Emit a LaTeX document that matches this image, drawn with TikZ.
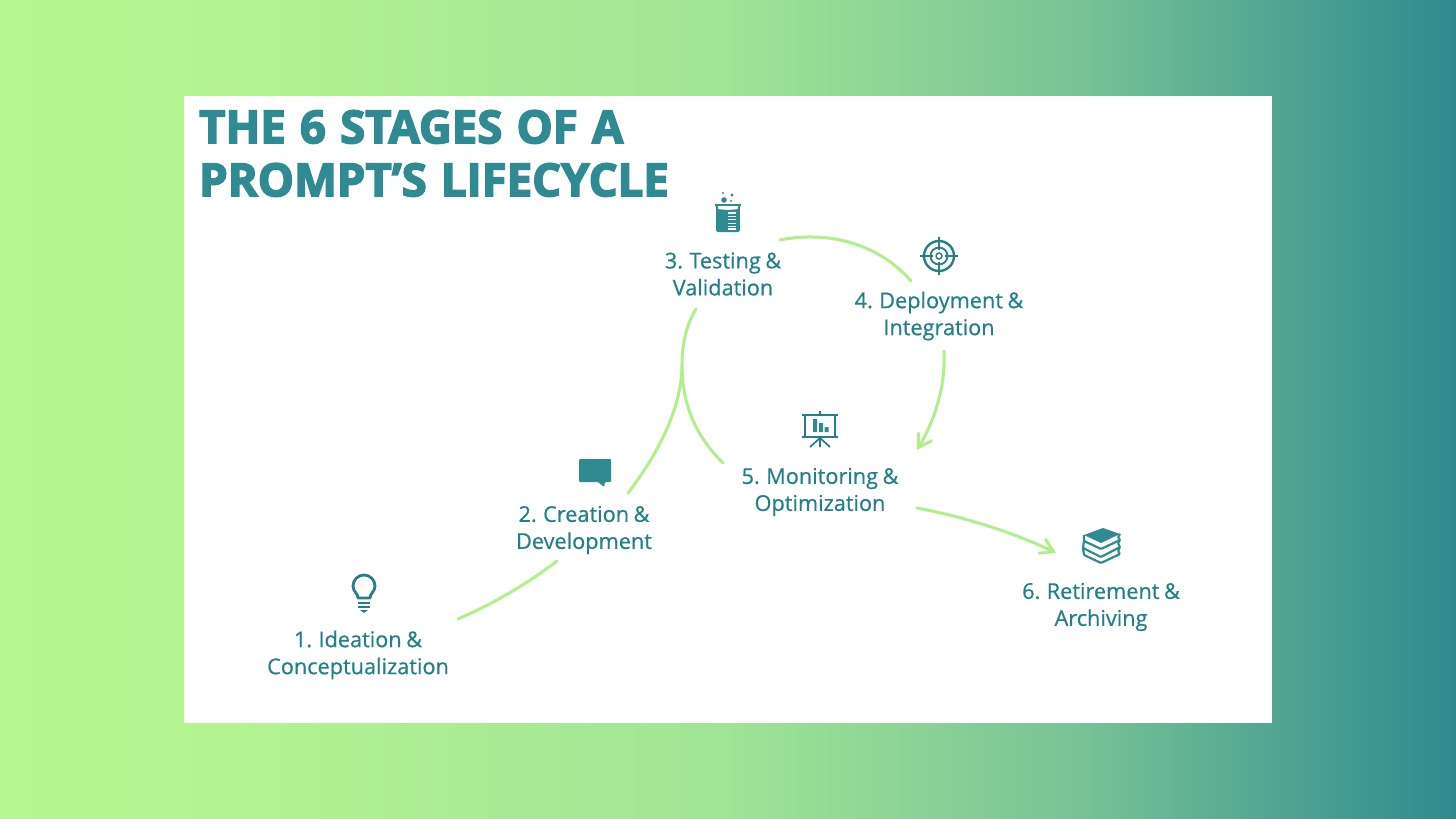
\documentclass[tikz,border=0pt]{standalone}
\usepackage{fontspec}
\usepackage{xcolor}
\usetikzlibrary{positioning, arrows.meta}
\setmainfont[FakeBold=0.6, WordSpace=0.8]{Open Sans}
\newfontfamily\titlefont[FakeBold=3.5, WordSpace=1.2]{Open Sans Bold}
\definecolor{tealdark}{HTML}{247F87}
\definecolor{tealicon}{HTML}{2F8A92}
\definecolor{limeline}{HTML}{B0EF8C}
\definecolor{bgA}{HTML}{B6F68F}
\definecolor{bgB}{HTML}{B3F392}
\definecolor{bgC}{HTML}{A0E496}
\definecolor{bgD}{HTML}{78C396}
\definecolor{bgE}{HTML}{2E8A8F}
\pgfdeclarehorizontalshading{bgshade}{100bp}{
    color(0bp)=(bgA);
    color(25bp)=(bgA);
    color(33bp)=(bgB);
    color(50bp)=(bgC);
    color(62bp)=(bgD);
    color(75bp)=(bgE);
    color(100bp)=(bgE)}
\tikzset{
    x=1pt, y=-1pt,
    flow/.style={draw=limeline, line width=3pt, line cap=round},
    stagelabel/.style={text=tealdark, font=\fontsize{21.7}{27}\selectfont, align=center, inner sep=0pt},
    % icons, drawn round their centre
    pics/beaker/.style={code={
        \draw[tealicon, line width=1.8pt] (-13,-13) -- (13,-13);
        \draw[tealicon, line width=1.6pt] (-11,-13) -- (-11,-8) (11,-13) -- (11,-8);
        \fill[tealicon, rounded corners=1.5pt] (-11.8,-9) -- (0,-8) -- (11.8,-9) -- (11.8,14) -- (-11.8,14) -- cycle;
        \foreach \ypos in {-5,-1.6,1.8,5.2,8.6,11}{
            \draw[white, line width=1.3pt] (0,\ypos) -- (8,\ypos);
        }
        \fill[tealicon] (-4,-18) circle (2.8) (4,-23) circle (1.7) (-5,-25) circle (1.1) (3,-17) circle (1.2);
    }},
    pics/target/.style={code={
        \draw[tealdark, line width=2.4pt] (0,0) circle (15);
        \draw[tealdark, line width=1.8pt] (0,0) circle (8.5);
        \draw[tealdark, line width=1.4pt] (0,0) circle (3);
        \draw[tealdark, line width=1.5pt] (-19,0) -- (-6,0) (6,0) -- (19,0) (0,-19) -- (0,-6) (0,6) -- (0,19);
    }},
    pics/board/.style={code={
        \draw[tealdark, line width=2.2pt] (-15,-10) rectangle (15,12);
        \draw[tealdark, line width=1.8pt] (-18,-10) -- (18,-10) (-18,12) -- (18,12) (0,-14) -- (0,-10);
        \draw[tealdark, line width=1.7pt] (0,12) -- (0,22) (0,13) -- (-10,22) (0,13) -- (10,22);
        \fill[tealicon] (-7,-6) rectangle (-3,7) (-1,-2) rectangle (3,7) (4.5,2) rectangle (8.5,7);
    }},
    pics/bubble/.style={code={
        \fill[tealicon, rounded corners=1pt] (-16,-12) -- (16,-12) -- (16,11) -- (10,11) -- (9,16) -- (3,11) -- (-16,11) -- cycle;
    }},
    pics/bulb/.style={code={
        \draw[tealdark, line width=2.8pt, line join=round] (-6,9) .. controls (-6,4) and (-11,3) .. (-11,-3) arc[start angle=180, end angle=360, radius=11] .. controls (11,3) and (6,4) .. (6,9) -- cycle;
        \draw[tealdark, line width=2.2pt] (-6,14) -- (6,14) (-6,18) -- (6,18);
        \fill[tealdark] (-4,21) -- (4,21) -- (0,24) -- cycle;
    }},
    pics/books/.style={code={
        \fill[tealicon] (-17,-11) -- (2,-18) -- (19,-12) -- (0,-3) -- cycle;
        \draw[tealicon, line width=2.2pt, line join=round, rounded corners=1pt]
            (-17,-11) -- (-17,-5) -- (0,3) -- (19,-6) (19,-12) -- (17,-9) -- (19,-6)
            (-17,-5) -- (-18,2) -- (0,11) -- (19,1) -- (17,-3) (19,-6) -- (17,-3)
            (-18,2) -- (-17,9) -- (0,17) -- (19,8) -- (17,5) -- (19,1);
    }},
}

\begin{document}
\begin{tikzpicture}

\useasboundingbox (0,0) rectangle (1456,819);
\fill[shading=bgshade] (0,0) rectangle (1456,819);
\fill[white] (184,96) rectangle (1272,723);

\node[text=tealicon, font=\titlefont\fontsize{45.5}{53}\selectfont, align=left, anchor=north west, inner sep=0pt] (title) at (199,110) {THE 6 STAGES OF A\\PROMPT’S LIFECYCLE};

\node[stagelabel] (lab1) at (358,655) {1. Ideation \&\\Conceptualization};
\node[stagelabel, above right=125pt and 226pt of lab1.center, anchor=center] (lab2) {2. Creation \&\\Development};
\node[stagelabel, above right=256pt and 139pt of lab2.center, anchor=center] (lab3) {3. Testing \&\\Validation};
\node[stagelabel, below right=42pt and 216pt of lab3.center, anchor=center] (lab4) {4. Deployment \&\\Integration};
\node[stagelabel, below left=176pt and 119pt of lab4.center, anchor=center] (lab5) {5. Monitoring \&\\Optimization};
\node[stagelabel, below right=115pt and 281pt of lab5.center, anchor=center] (lab6) {6. Retirement \&\\Archiving};

\pic at (364,589) {bulb};
\pic at (595,471) {bubble};
\pic at (728,218) {beaker};
\pic at (939,256) {target};
\pic at (820,425) {board};
\pic at (1101,546) {books};

\coordinate (a1) at (458,619);
\coordinate (a2) at (557,561);
\coordinate (b2) at (628,493);
\coordinate (b3) at (696,309);
\coordinate (m3) at (682,365);
\coordinate (b5) at (723,463);
\coordinate (c3) at (780,240);
\coordinate (c4) at (911,281);
\coordinate (d4) at (944,351);
\coordinate (d5) at (917,450);
\coordinate (e5) at (917,508);
\coordinate (e6) at (1056,553);

\draw[flow] (a1) .. controls (495,603) and (530,582) .. (a2);
\draw[flow] (b2) .. controls (665,445) and (682,400) .. (m3) .. controls (682,340) and (688,322) .. (b3);
\draw[flow] (m3) .. controls (682,410) and (700,440) .. (b5);
\draw[flow] (c3) .. controls (830,230) and (880,245) .. (c4);
\draw[flow, -{Straight Barb[length=13pt,width=16pt]}] (d4) .. controls (946,390) and (932,425) .. (d5);
\draw[flow, -{Straight Barb[length=13pt,width=16pt]}] (e5) .. controls (965,517) and (1015,533) .. (e6);

\end{tikzpicture}
\end{document}
